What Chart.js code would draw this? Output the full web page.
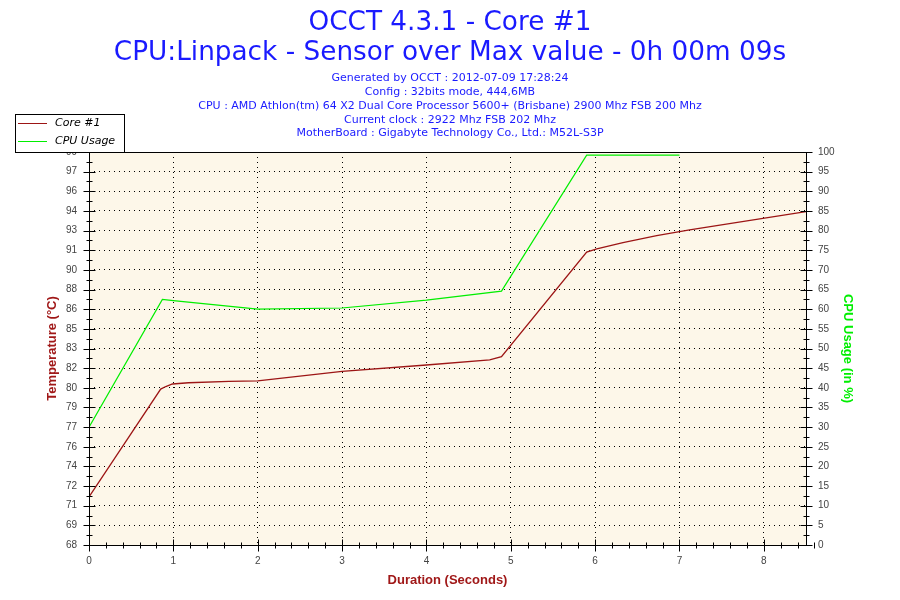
<!DOCTYPE html>
<html><head><meta charset="utf-8">
<script src="https://cdn.jsdelivr.net/npm/chart.js@4.4.0/dist/chart.umd.min.js"></script>
<style>html,body{margin:0;padding:0;background:#fff;}#wrap{width:900px;height:600px;}</style>
</head><body><div id="wrap"><canvas id="c" width="900" height="600"></canvas></div>
<script>
// ---- text ----
const titleLines = ['OCCT 4.3.1 - Core #1', 'CPU:Linpack - Sensor over Max value - 0h 00m 09s'];
const infoLines = [
  'Generated by OCCT : 2012-07-09 17:28:24',
  'Config : 32bits mode, 444,6MB',
  'CPU : AMD Athlon(tm) 64 X2 Dual Core Processor 5600+ (Brisbane) 2900 Mhz FSB 200 Mhz',
  'Current clock : 2922 Mhz FSB 202 Mhz',
  'MotherBoard : Gigabyte Technology Co., Ltd.: M52L-S3P'
];
const seriesNames = ['Core #1', 'CPU Usage'];
const xAxisTitle = 'Duration (Seconds)';
const leftAxisTitle = 'Temperature (°C)';
const rightAxisTitle = 'CPU Usage (in %)';

// ---- data ----
const coreTimes = [0, 0.85, 0.91, 0.99, 1.18, 1.66, 2, 3, 4, 4.75, 4.89, 5.9, 6.02, 6.33, 6.73, 7.12, 8.5];
const coreTemps = [71.8, 80.3, 80.5, 80.7, 80.8, 80.9, 80.95, 81.7, 82.2, 82.6, 82.85, 91.1, 91.35, 91.85, 92.4, 92.85, 94.3];
const cpuTimes = [0, 0.87, 1, 2, 3, 4, 4.89, 5.9, 7];
const cpuUsage = [30, 62.5, 62.2, 60, 60.3, 62.3, 64.6, 99.2, 99.2];

// ---- tick labels ----
const tempTickLabels = [68, 69, 71, 72, 74, 76, 77, 79, 80, 82, 83, 85, 86, 88, 90, 91, 93, 94, 96, 97, 99];
const cpuTickLabels = [0, 5, 10, 15, 20, 25, 30, 35, 40, 45, 50, 55, 60, 65, 70, 75, 80, 85, 90, 95, 100];
const timeTickLabels = [0, 1, 2, 3, 4, 5, 6, 7, 8];
const timeMax = 8.5;

const tMin = tempTickLabels[0], tMax = tempTickLabels[tempTickLabels.length - 1];
const tStep = (tMax - tMin) / (tempTickLabels.length - 1);

const RED = '#9c1515', GREEN = '#00ee00', BLUE = '#1a1aff', AXRED = '#a01818';
const tickFont = {family: 'Liberation Sans', size: 10};

const decor = {
  id: 'decor',
  beforeDraw(chart) {
    const {ctx, chartArea: a} = chart;
    ctx.save();
    ctx.fillStyle = '#ffffff';
    ctx.fillRect(0, 0, chart.width, chart.height);
    ctx.fillStyle = '#fdf7e9';
    ctx.fillRect(a.left, a.top, a.right - a.left, a.bottom - a.top);
    ctx.restore();
  },
  afterDraw(chart) {
    const {ctx, chartArea: a, scales} = chart;
    ctx.save();
    // border
    ctx.strokeStyle = '#000'; ctx.lineWidth = 1;
    ctx.strokeRect(Math.round(a.left) + 0.5, Math.round(a.top) + 0.5, Math.round(a.right - a.left), Math.round(a.bottom - a.top));
    // tick marks
    ctx.beginPath();
    const xs = scales.x;
    for (let i = 0; i <= Math.round(timeMax / 0.2); i++) {
      const v = i * 0.2;
      const px = Math.round(xs.getPixelForValue(v)) + 0.5;
      const major = Math.abs(v - Math.round(v)) < 1e-6;
      const y0 = Math.round(a.bottom) + 0.5;
      ctx.moveTo(px, y0 - (major ? 6 : 3)); ctx.lineTo(px, y0 + (major ? 6 : 3));
    }
    const yl = scales.yT, yr = scales.yC;
    for (let k = 0; k <= 40; k++) {
      const major = k % 2 === 0;
      const pl = Math.round(yl.getPixelForValue(tMin + k * tStep / 2)) + 0.5;
      const xl = Math.round(a.left) + 0.5;
      ctx.moveTo(xl - (major ? 6 : 3), pl); ctx.lineTo(xl + (major ? 6 : 3), pl);
      const pr = Math.round(yr.getPixelForValue(k * 2.5)) + 0.5;
      const xr = Math.round(a.right) + 0.5;
      ctx.moveTo(xr - (major ? 6 : 3), pr); ctx.lineTo(xr + (major ? 6 : 3), pr);
    }
    ctx.stroke();

    // titles
    ctx.fillStyle = BLUE; ctx.textAlign = 'center'; ctx.textBaseline = 'alphabetic';
    ctx.font = '26.3px "DejaVu Sans"';
    ctx.fillText(titleLines[0], 450, 30);
    ctx.fillText(titleLines[1], 450, 60);
    ctx.font = '11px "DejaVu Sans"';
    const base = [81, 95, 109, 122.5, 136];
    infoLines.forEach((l, i) => ctx.fillText(l, 450, base[i]));

    // axis titles
    ctx.font = 'bold 13px "Liberation Sans"';
    ctx.textBaseline = 'middle';
    ctx.fillStyle = AXRED;
    ctx.fillText(xAxisTitle, (a.left + a.right) / 2, 580);
    const cy = (a.top + a.bottom) / 2;
    ctx.save(); ctx.translate(52, cy); ctx.rotate(-Math.PI / 2); ctx.fillText(leftAxisTitle, 0, 0); ctx.restore();
    ctx.fillStyle = GREEN;
    ctx.save(); ctx.translate(848, cy); ctx.rotate(Math.PI / 2); ctx.fillText(rightAxisTitle, 0, 0); ctx.restore();

    // legend
    ctx.fillStyle = '#fff'; ctx.strokeStyle = '#000'; ctx.lineWidth = 1;
    ctx.fillRect(15.5, 114.5, 109, 38);
    ctx.strokeRect(15.5, 114.5, 109, 38);
    ctx.font = 'italic 11px "DejaVu Sans"';
    ctx.textAlign = 'left'; ctx.textBaseline = 'middle'; ctx.fillStyle = '#000';
    chart.data.datasets.forEach((ds, i) => {
      const y = 123.5 + i * 18;
      ctx.strokeStyle = ds.borderColor; ctx.lineWidth = 1;
      ctx.beginPath(); ctx.moveTo(18, y); ctx.lineTo(47, y); ctx.stroke();
      ctx.fillText(ds.label, 55, y);
    });
    ctx.restore();
  }
};

new Chart(document.getElementById('c'), {
  type: 'line',
  data: {
    datasets: [
      {label: seriesNames[0], data: coreTimes.map((t, i) => ({x: t, y: coreTemps[i]})), yAxisID: 'yT',
       borderColor: RED, borderWidth: 1.3, pointRadius: 0, tension: 0, fill: false},
      {label: seriesNames[1], data: cpuTimes.map((t, i) => ({x: t, y: cpuUsage[i]})), yAxisID: 'yC',
       borderColor: GREEN, borderWidth: 1.2, pointRadius: 0, tension: 0, fill: false}
    ]
  },
  options: {
    responsive: false, animation: false, devicePixelRatio: 1,
    layout: {padding: {top: 152, left: 0, right: 0, bottom: 0}},
    plugins: {legend: {display: false}, title: {display: false}, tooltip: {enabled: false}},
    scales: {
      x: {
        type: 'linear', min: 0, max: timeMax,
        afterBuildTicks: s => { s.ticks = timeTickLabels.map(v => ({value: v})); },
        afterFit: s => { s.height = 55; },
        ticks: {font: tickFont, color: '#444', padding: 10, maxRotation: 0, callback: (v, i) => String(timeTickLabels[i])},
        grid: {drawTicks: false, color: c => (c.tick && c.tick.value > 0 ? '#000' : 'rgba(0,0,0,0)'), lineWidth: 1},
        border: {display: false, dash: [1, 4]}
      },
      yT: {
        type: 'linear', position: 'left', min: tMin, max: tMax,
        afterBuildTicks: s => { s.ticks = tempTickLabels.map((l, i) => ({value: tMin + i * tStep})); },
        afterFit: s => { s.width = 89; },
        ticks: {font: tickFont, color: '#444', padding: 12, callback: (v, i) => String(tempTickLabels[i])},
        grid: {drawTicks: false, color: '#000', lineWidth: 1},
        border: {display: false, dash: [1, 4]}
      },
      yC: {
        type: 'linear', position: 'right', min: 0, max: 100,
        afterBuildTicks: s => { s.ticks = cpuTickLabels.map(v => ({value: v})); },
        afterFit: s => { s.width = 94; },
        ticks: {font: tickFont, color: '#444', padding: 12, callback: (v, i) => String(cpuTickLabels[i])},
        grid: {drawTicks: false, drawOnChartArea: false},
        border: {display: false}
      }
    }
  },
  plugins: [decor]
});
</script>
</body></html>
